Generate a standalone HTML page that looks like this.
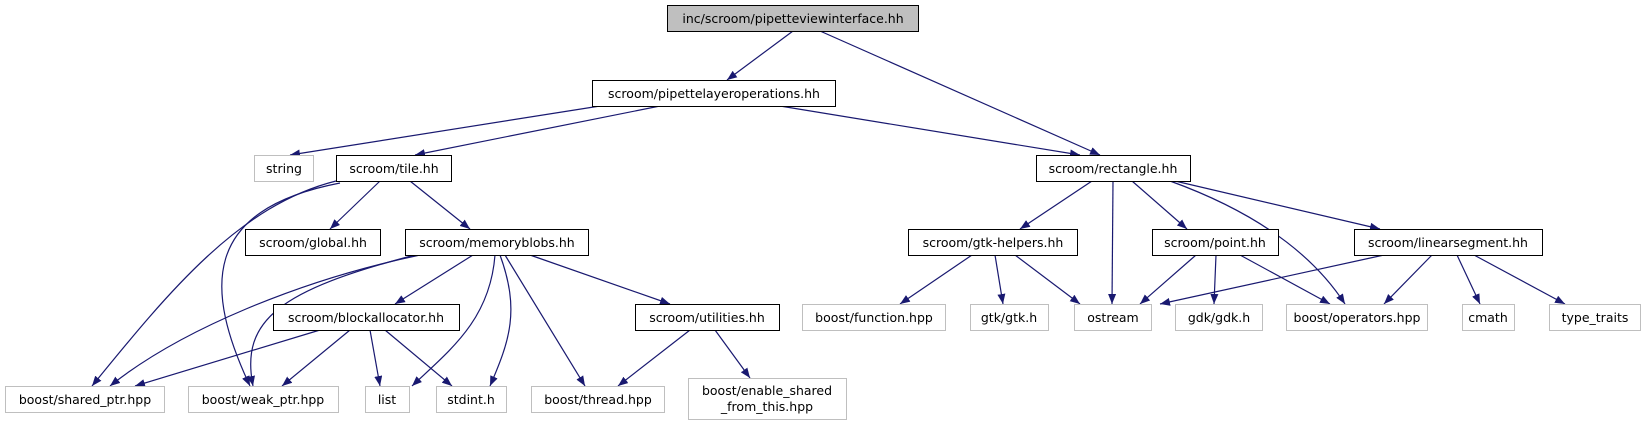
<!DOCTYPE html>
<html><head><meta charset="utf-8"><style>
html,body{margin:0;padding:0;background:#fff;}
svg{display:block;}
text{font-family:"DejaVu Sans","Liberation Sans",sans-serif;font-size:12.5px;fill:#000;}
</style></head><body>
<svg width="1647" height="425" viewBox="0 0 1647 425" xmlns="http://www.w3.org/2000/svg">
<defs>
<marker id="a" markerWidth="10" markerHeight="8" refX="10" refY="4" orient="auto" markerUnits="userSpaceOnUse">
<path d="M0,0 L10,4 L0,8 Z" fill="#191970"/>
</marker>
</defs>
<g fill="none" stroke="#191970" stroke-width="1.2" marker-end="url(#a)">
<path d="M793,31 L727,80"/>
<path d="M820,31 L1100,155"/>
<path d="M600,106 L290,155"/>
<path d="M660,106 L415,155"/>
<path d="M780,106 L1080,155"/>
<path d="M380,181 L330,229"/>
<path d="M410,181 L470,229"/>
<path d="M336,181 C240,205 170,290 92,386"/>
<path d="M340,183 C200,210 205,290 250,386"/>
<path d="M420,255 C300,280 180,330 110,386"/>
<path d="M415,255 C280,290 240,320 253,386"/>
<path d="M473,255 L395,304"/>
<path d="M495,255 C490,320 450,350 412,386"/>
<path d="M500,255 C520,310 510,340 490,386"/>
<path d="M505,255 L585,386"/>
<path d="M530,255 L670,304"/>
<path d="M320,330 L135,386"/>
<path d="M350,330 L282,386"/>
<path d="M370,330 L380,386"/>
<path d="M385,330 L452,386"/>
<path d="M690,330 L618,386"/>
<path d="M715,330 L750,378"/>
<path d="M1092,181 L1020,229"/>
<path d="M1113,181 L1112,304"/>
<path d="M1132,181 L1187,229"/>
<path d="M1170,181 C1250,210 1310,250 1345,304"/>
<path d="M1175,181 L1380,229"/>
<path d="M972,255 L900,304"/>
<path d="M995,255 L1003,304"/>
<path d="M1015,255 L1080,304"/>
<path d="M1196,255 L1140,304"/>
<path d="M1216,255 L1214,304"/>
<path d="M1240,255 L1330,304"/>
<path d="M1384,255 L1160,304"/>
<path d="M1432,255 L1384,304"/>
<path d="M1457,255 L1480,304"/>
<path d="M1474,255 L1565,304"/>
</g>
<g stroke-width="1">
<rect x="667.5" y="5.5" width="251" height="26" fill="#bfbfbf" stroke="#000"/>
<rect x="592.5" y="80.5" width="243" height="26" fill="#fff" stroke="#000"/>
<rect x="254.5" y="155.5" width="59" height="26" fill="#fff" stroke="#bfbfbf"/>
<rect x="336.5" y="155.5" width="115" height="26" fill="#fff" stroke="#000"/>
<rect x="1036.5" y="155.5" width="154" height="26" fill="#fff" stroke="#000"/>
<rect x="245.5" y="229.5" width="135" height="26" fill="#fff" stroke="#000"/>
<rect x="405.5" y="229.5" width="183" height="26" fill="#fff" stroke="#000"/>
<rect x="908.5" y="229.5" width="169" height="26" fill="#fff" stroke="#000"/>
<rect x="1152.5" y="229.5" width="126" height="26" fill="#fff" stroke="#000"/>
<rect x="1354.5" y="229.5" width="188" height="26" fill="#fff" stroke="#000"/>
<rect x="273.5" y="304.5" width="186" height="26" fill="#fff" stroke="#000"/>
<rect x="635.5" y="304.5" width="144" height="26" fill="#fff" stroke="#000"/>
<rect x="802.5" y="304.5" width="143" height="26" fill="#fff" stroke="#bfbfbf"/>
<rect x="970.5" y="304.5" width="78" height="26" fill="#fff" stroke="#bfbfbf"/>
<rect x="1074.5" y="304.5" width="77" height="26" fill="#fff" stroke="#bfbfbf"/>
<rect x="1175.5" y="304.5" width="87" height="26" fill="#fff" stroke="#bfbfbf"/>
<rect x="1286.5" y="304.5" width="141" height="26" fill="#fff" stroke="#bfbfbf"/>
<rect x="1462.5" y="304.5" width="52" height="26" fill="#fff" stroke="#bfbfbf"/>
<rect x="1549.5" y="304.5" width="91" height="26" fill="#fff" stroke="#bfbfbf"/>
<rect x="5.5" y="386.5" width="159" height="26" fill="#fff" stroke="#bfbfbf"/>
<rect x="188.5" y="386.5" width="150" height="26" fill="#fff" stroke="#bfbfbf"/>
<rect x="365.5" y="386.5" width="44" height="26" fill="#fff" stroke="#bfbfbf"/>
<rect x="436.5" y="386.5" width="70" height="26" fill="#fff" stroke="#bfbfbf"/>
<rect x="531.5" y="386.5" width="133" height="26" fill="#fff" stroke="#bfbfbf"/>
<rect x="688.5" y="378.5" width="158" height="41" fill="#fff" stroke="#bfbfbf"/>
</g>
<g text-anchor="middle">
<text x="793" y="23">inc/scroom/pipetteviewinterface.hh</text>
<text x="714" y="98">scroom/pipettelayeroperations.hh</text>
<text x="284" y="173">string</text>
<text x="394" y="173">scroom/tile.hh</text>
<text x="1113" y="173">scroom/rectangle.hh</text>
<text x="313" y="247">scroom/global.hh</text>
<text x="497" y="247">scroom/memoryblobs.hh</text>
<text x="993" y="247">scroom/gtk-helpers.hh</text>
<text x="1215" y="247">scroom/point.hh</text>
<text x="1448" y="247">scroom/linearsegment.hh</text>
<text x="366" y="322">scroom/blockallocator.hh</text>
<text x="707" y="322">scroom/utilities.hh</text>
<text x="874" y="322">boost/function.hpp</text>
<text x="1009" y="322">gtk/gtk.h</text>
<text x="1113" y="322">ostream</text>
<text x="1219" y="322">gdk/gdk.h</text>
<text x="1357" y="322">boost/operators.hpp</text>
<text x="1488" y="322">cmath</text>
<text x="1595" y="322">type_traits</text>
<text x="85" y="404">boost/shared_ptr.hpp</text>
<text x="263" y="404">boost/weak_ptr.hpp</text>
<text x="387" y="404">list</text>
<text x="471" y="404">stdint.h</text>
<text x="598" y="404">boost/thread.hpp</text>
<text x="767" y="395">boost/enable_shared</text>
<text x="767" y="411">_from_this.hpp</text>
</g>
</svg>
</body></html>
